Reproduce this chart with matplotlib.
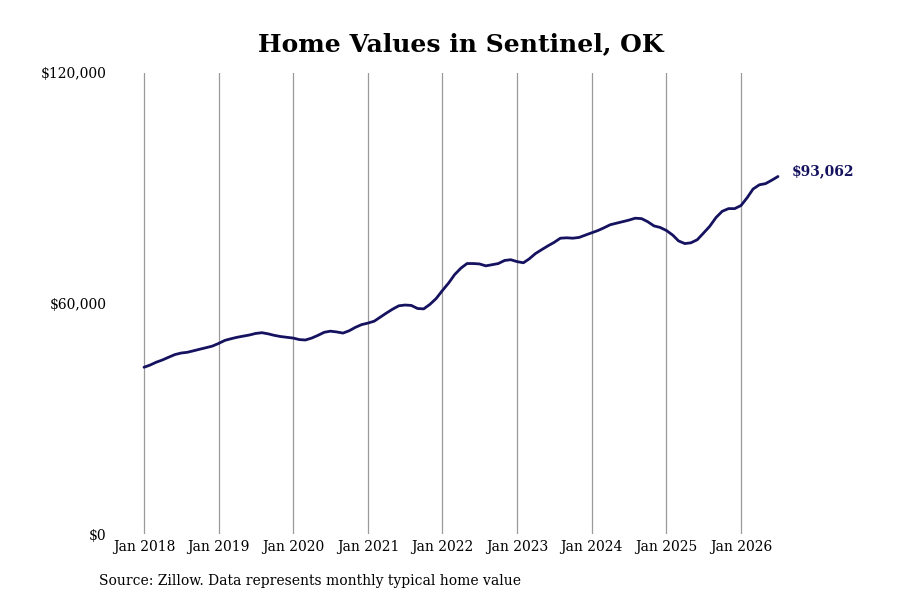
import matplotlib
matplotlib.use("Agg")
import matplotlib.pyplot as plt
import matplotlib.dates as mdates
import pandas as pd

values = [
    43.4, 44.0, 44.7, 45.3, 46.0, 46.7, 47.1, 47.3, 47.7, 48.1, 48.5, 48.9,
    49.6, 50.4, 50.8, 51.2, 51.5, 51.8, 52.2, 52.4, 52.1, 51.7, 51.4, 51.2,
    51.0, 50.6, 50.5, 51.0, 51.7, 52.5, 52.8, 52.6, 52.3, 52.9, 53.8, 54.5,
    54.9, 55.4, 56.4, 57.5, 58.5, 59.4, 59.6, 59.5, 58.7, 58.6, 59.8, 61.3,
    63.4, 65.4, 67.5, 69.2, 70.4, 70.4, 70.3, 69.8, 70.1, 70.4, 71.2, 71.4,
    70.9, 70.6, 71.6, 73.0, 74.0, 75.0, 75.9, 77.0, 77.1, 77.0, 77.2, 77.8,
    78.4, 79.0, 79.7, 80.5, 80.9, 81.3, 81.7, 82.2, 82.1, 81.3, 80.2, 79.8,
    79.0, 77.8, 76.3, 75.6, 75.8, 76.6, 78.3, 80.1, 82.4, 84.0, 84.7, 84.7,
    85.5, 87.6, 89.8, 90.9, 91.2, 92.1, 93.062,
]
values = [v * 1000 for v in values]
dates = pd.date_range("2018-01-01", periods=len(values), freq="MS")
tick_years = list(range(2018, 2027))
tick_dates = [pd.Timestamp(f"{y}-01-01") for y in tick_years]
tick_labels = [f"Jan {y}" for y in tick_years]
y_ticks = [0, 60000, 120000]
y_labels = ["$0", "$60,000", "$120,000"]
end_label = "$93,062"

plt.rcParams['font.family'] = ['DejaVu Serif']
fig = plt.figure(figsize=(9, 6), dpi=100)
ax = fig.add_axes([110/900, 1-534/600, 680/900, 461/600])

line_color = "#15125f"
ax.plot(dates, values, color=line_color, lw=2.0, solid_capstyle="round")

d0 = mdates.date2num(pd.Timestamp("2018-01-01"))
d1 = mdates.date2num(pd.Timestamp("2026-01-01"))
px_per_day = (741 - 144) / (d1 - d0)
ax.set_xlim(d0 - (144 - 110) / px_per_day, d0 + (790 - 144) / px_per_day)
ax.set_ylim(0, 120000)

ax.set_xticks(tick_dates)
ax.set_xticklabels(tick_labels, fontsize=10)
ax.set_yticks(y_ticks)
ax.set_yticklabels(y_labels, fontsize=10)
ax.tick_params(axis="x", length=0, pad=4)
ax.tick_params(axis="y", length=0, pad=2.5)
ax.grid(axis="x", color="#9a9a9a", lw=0.9)
ax.grid(axis="y", visible=False)
for s in ax.spines.values():
    s.set_visible(False)

ax.annotate(end_label, xy=(dates[-1], values[-1]), xytext=(10, 4),
            textcoords="offset points", fontsize=10, fontweight="bold",
            color=line_color, va="center", ha="left")

fig.text(461/900, 1 - 44/600, "Home Values in Sentinel, OK", ha="center", va="center",
         fontsize=18, fontweight="bold")
fig.text(99/900, 1 - 581/600, "Source: Zillow. Data represents monthly typical home value",
         ha="left", va="center", fontsize=10)

fig.savefig("out.png", dpi=100)
